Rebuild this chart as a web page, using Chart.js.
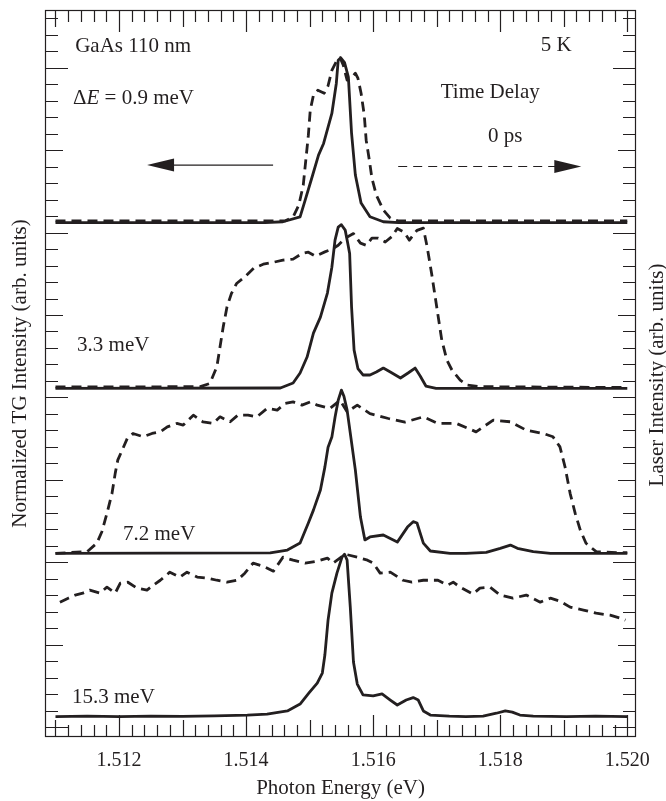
<!DOCTYPE html>
<html>
<head>
<meta charset="utf-8">
<script src="https://cdn.jsdelivr.net/npm/chart.js@4.4.1/dist/chart.umd.min.js"></script>
<style>
html,body{margin:0;padding:0;background:#fff;}
canvas{display:block;}
</style>
</head>
<body>
<canvas id="c" width="666" height="801"></canvas>
<script>
// ---------------- DATA (photon energy in eV, normalized intensity 0..1) ----------------
const PANEL_LABELS = ['0.9 meV', '3.3 meV', '7.2 meV', '15.3 meV'];
const PANEL_OFFSETS = [3.061, 2.055, 1.054, 0.0625];   // vertical stacking offsets (arb. units)
const X_TICK_LABELS = [1.512, 1.514, 1.516, 1.518, 1.520];

// Panel 1 : ΔE = 0.9 meV
const P1_TG_E = [1.511, 1.5143, 1.51458, 1.51485, 1.51493, 1.51504, 1.51514, 1.51522, 1.51535, 1.51542, 1.51545, 1.51549, 1.51555, 1.51561, 1.51566, 1.51572, 1.51581, 1.51595, 1.51616, 1.5164, 1.520];
const P1_TG_N = [0, 0, 0.005, 0.035, 0.136, 0.278, 0.409, 0.48, 0.662, 0.844, 0.985, 1.0, 0.97, 0.882, 0.542, 0.288, 0.118, 0.035, 0.005, 0, 0];
const P1_LASER_E = [1.511, 1.51461, 1.51474, 1.51483, 1.5149, 1.51494, 1.51498, 1.51501, 1.51506, 1.51513, 1.51523, 1.51529, 1.51535, 1.51543, 1.51548, 1.51553, 1.51559, 1.51565, 1.51572, 1.51576, 1.51581, 1.51586, 1.51589, 1.51594, 1.51598, 1.51605, 1.51616, 1.51627, 1.51639, 1.520];
const P1_LASER_N = [0.01, 0.01, 0.033, 0.106, 0.227, 0.379, 0.53, 0.682, 0.773, 0.803, 0.785, 0.83, 0.924, 0.985, 1.0, 0.955, 0.864, 0.876, 0.906, 0.876, 0.785, 0.652, 0.5, 0.379, 0.27, 0.167, 0.076, 0.027, 0.01, 0.01];

// Panel 2 : 3.3 meV
const P2_TG_E = [1.511, 1.51454, 1.51474, 1.51485, 1.51496, 1.51506, 1.51517, 1.51528, 1.51535, 1.5154, 1.51545, 1.5155, 1.51556, 1.5156, 1.51563, 1.51566, 1.5157, 1.51576, 1.51584, 1.51595, 1.51605, 1.51616, 1.51627, 1.51643, 1.51655, 1.51666, 1.51674, 1.51683, 1.51699, 1.520];
const P2_TG_N = [0, 0.002, 0.032, 0.093, 0.19, 0.335, 0.432, 0.578, 0.735, 0.899, 0.978, 0.993, 0.96, 0.88, 0.818, 0.495, 0.232, 0.12, 0.081, 0.081, 0.099, 0.123, 0.099, 0.063, 0.093, 0.123, 0.075, 0.014, 0, 0];
const P2_LASER_E = [1.511, 1.51328, 1.51343, 1.51354, 1.51359, 1.51364, 1.5137, 1.51377, 1.51385, 1.51398, 1.51412, 1.51427, 1.51443, 1.51458, 1.51474, 1.51488, 1.51498, 1.51509, 1.51524, 1.51535, 1.51545, 1.51556, 1.51569, 1.5158, 1.51589, 1.51598, 1.51608, 1.51619, 1.51629, 1.51638, 1.51649, 1.51657, 1.51669, 1.51679, 1.51685, 1.51692, 1.517, 1.51708, 1.51716, 1.51724, 1.51737, 1.51748, 1.51769, 1.520];
const P2_LASER_N = [0.008, 0.01, 0.03, 0.131, 0.252, 0.373, 0.495, 0.576, 0.636, 0.676, 0.729, 0.753, 0.765, 0.778, 0.784, 0.818, 0.826, 0.802, 0.828, 0.844, 0.868, 0.911, 0.939, 0.881, 0.868, 0.911, 0.911, 0.888, 0.919, 0.97, 0.947, 0.899, 0.959, 0.972, 0.858, 0.697, 0.495, 0.293, 0.172, 0.111, 0.05, 0.02, 0.01, 0.005];

// Panel 3 : 7.2 meV
const P3_TG_E = [1.511, 1.51438, 1.51465, 1.51485, 1.51498, 1.51506, 1.51517, 1.51524, 1.51529, 1.51535, 1.5154, 1.51545, 1.5155, 1.51554, 1.51559, 1.51564, 1.51572, 1.5158, 1.51587, 1.51595, 1.51616, 1.51638, 1.51654, 1.51663, 1.51669, 1.51679, 1.5169, 1.51721, 1.51746, 1.51778, 1.518, 1.51816, 1.51827, 1.51852, 1.51879, 1.520];
const P3_TG_N = [0, 0.002, 0.02, 0.062, 0.184, 0.262, 0.384, 0.523, 0.644, 0.705, 0.826, 0.929, 0.99, 0.953, 0.869, 0.729, 0.505, 0.22, 0.081, 0.099, 0.111, 0.068, 0.159, 0.192, 0.184, 0.062, 0.014, 0, 0, 0.006, 0.03, 0.05, 0.03, 0.01, 0, 0];
const P3_LASER_E = [1.511, 1.5115, 1.51165, 1.51173, 1.51181, 1.51189, 1.51194, 1.51198, 1.51205, 1.51213, 1.51222, 1.51238, 1.51252, 1.51265, 1.51276, 1.51291, 1.51301, 1.51317, 1.51332, 1.51348, 1.51359, 1.51375, 1.51387, 1.51403, 1.51417, 1.51433, 1.51449, 1.51461, 1.51474, 1.51488, 1.51501, 1.51512, 1.51532, 1.51548, 1.51559, 1.51575, 1.51595, 1.51624, 1.5165, 1.51679, 1.51702, 1.51731, 1.51762, 1.51789, 1.51816, 1.51841, 1.51868, 1.51883, 1.51894, 1.51902, 1.5191, 1.51918, 1.51926, 1.51935, 1.51951, 1.51983, 1.520];
const P3_LASER_N = [0, 0.01, 0.061, 0.131, 0.242, 0.364, 0.485, 0.565, 0.626, 0.697, 0.727, 0.707, 0.727, 0.737, 0.767, 0.788, 0.778, 0.838, 0.798, 0.788, 0.828, 0.798, 0.838, 0.838, 0.828, 0.879, 0.869, 0.909, 0.919, 0.899, 0.919, 0.899, 0.879, 0.929, 0.858, 0.899, 0.848, 0.818, 0.796, 0.828, 0.788, 0.788, 0.737, 0.808, 0.798, 0.747, 0.727, 0.707, 0.646, 0.525, 0.364, 0.242, 0.141, 0.061, 0.01, 0.004, 0.004];

// Panel 4 : 15.3 meV
const P4_TG_E = [1.511, 1.5115, 1.512, 1.5125, 1.513, 1.5135, 1.51402, 1.51433, 1.51465, 1.51485, 1.51499, 1.51512, 1.5152, 1.51524, 1.51529, 1.51535, 1.51543, 1.51551, 1.51555, 1.51559, 1.51564, 1.51569, 1.51575, 1.51584, 1.516, 1.51614, 1.51627, 1.51638, 1.51652, 1.51663, 1.51671, 1.51679, 1.5169, 1.5172, 1.51746, 1.51773, 1.51794, 1.51808, 1.51819, 1.51831, 1.51852, 1.5188, 1.51904, 1.5195, 1.520];
const P4_TG_N = [0, 0.003, 0.001, 0.004, 0.002, 0.005, 0.01, 0.016, 0.035, 0.077, 0.144, 0.204, 0.265, 0.374, 0.586, 0.75, 0.871, 0.968, 0.986, 0.95, 0.665, 0.332, 0.198, 0.132, 0.126, 0.138, 0.101, 0.071, 0.101, 0.116, 0.101, 0.035, 0.01, 0.003, 0, 0.004, 0.021, 0.035, 0.028, 0.01, 0.004, 0.002, 0, 0.003, 0.001];
const P4_LASER_E = [1.51107, 1.5112, 1.51131, 1.51143, 1.51154, 1.5117, 1.51181, 1.51194, 1.51202, 1.51214, 1.51228, 1.51244, 1.51254, 1.51265, 1.5128, 1.51296, 1.51307, 1.51323, 1.51339, 1.51354, 1.5137, 1.51386, 1.51398, 1.51411, 1.51427, 1.51443, 1.51458, 1.51474, 1.51493, 1.51512, 1.51528, 1.51537, 1.51556, 1.51575, 1.51591, 1.516, 1.51611, 1.51627, 1.51647, 1.51661, 1.51679, 1.51702, 1.51717, 1.51726, 1.51737, 1.51757, 1.51768, 1.51784, 1.518, 1.5182, 1.51841, 1.51863, 1.51879, 1.51894, 1.5191, 1.51931, 1.51951, 1.51973, 1.51989, 1.51997];
const P4_LASER_N = [0.695, 0.719, 0.738, 0.75, 0.768, 0.75, 0.786, 0.75, 0.81, 0.816, 0.78, 0.768, 0.798, 0.828, 0.877, 0.847, 0.877, 0.847, 0.841, 0.828, 0.816, 0.828, 0.871, 0.932, 0.913, 0.883, 0.968, 0.95, 0.932, 0.944, 0.962, 0.932, 0.986, 0.968, 0.95, 0.932, 0.871, 0.877, 0.828, 0.816, 0.828, 0.828, 0.798, 0.816, 0.786, 0.744, 0.78, 0.786, 0.738, 0.719, 0.738, 0.695, 0.719, 0.701, 0.665, 0.647, 0.628, 0.616, 0.598, 0.586];

// ---------------- BUILD ----------------
const INK = '#231f20';
const FONT = '"Liberation Serif", "Times New Roman", Times, serif';
Chart.defaults.font.family = FONT;
Chart.defaults.color = INK;

const SERIES = [
  [P1_TG_E, P1_TG_N, P1_LASER_E, P1_LASER_N],
  [P2_TG_E, P2_TG_N, P2_LASER_E, P2_LASER_N],
  [P3_TG_E, P3_TG_N, P3_LASER_E, P3_LASER_N],
  [P4_TG_E, P4_TG_N, P4_LASER_E, P4_LASER_N]
];
function pts(E, N, off) {
  const n = Math.min(E.length, N.length);
  const out = [];
  for (let i = 0; i < n; i++) out.push({x: E[i], y: N[i] + off});
  return out;
}
const datasets = [];
SERIES.forEach((s, i) => {
  datasets.push({label: 'Laser ' + PANEL_LABELS[i], data: pts(s[2], s[3], PANEL_OFFSETS[i]),
    borderColor: INK, borderWidth: 2.8, borderDash: [10, 6], pointRadius: 0, tension: 0,
    borderJoinStyle: 'round', fill: false, yAxisID: 'y'});
  datasets.push({label: 'TG ' + PANEL_LABELS[i], data: pts(s[0], s[1], PANEL_OFFSETS[i]),
    borderColor: INK, borderWidth: 2.8, pointRadius: 0, tension: 0,
    borderJoinStyle: 'round', fill: false, yAxisID: 'y'});
});

const X_MIN = 1.510835, X_MAX = 1.520137;
const Y_MIN = -0.0607, Y_MAX = 4.3508;

const RIGHT_TITLE = 'Laser Intensity (arb. units)';
const ANNOT = [
  {t: 'GaAs 110 nm', x: 1.51131, y: 4.132, a: 'left'},
  {t: '5 K', x: 1.518882, y: 4.138, a: 'center'},
  {t: 'Time Delay', x: 1.517843, y: 3.853, a: 'center'},
  {t: '0 ps', x: 1.518079, y: 3.583, a: 'center'},
  {t: '3.3 meV', x: 1.51134, y: 2.318, a: 'left'},
  {t: '7.2 meV', x: 1.512063, y: 1.171, a: 'left'},
  {t: '15.3 meV', x: 1.51126, y: 0.179, a: 'left'}
];
const DELTA_LABEL = {x: 1.511276, y: 3.814};
const ARROW_LEFT = {x1: 1.514425, x2: 1.512441, y: 3.41};
const ARROW_RIGHT = {x1: 1.516394, x2: 1.519276, y: 3.401};

const decor = {
  id: 'decor',
  afterDatasetsDraw(chart) {
    const {ctx, chartArea: a, scales} = chart;
    const x = scales.x, y = scales.y, y2 = scales.y2;
    ctx.save();
    // frame
    ctx.strokeStyle = INK;
    ctx.lineWidth = 1.2;
    ctx.strokeRect(a.left + 0.5, a.top + 0.5, a.right - a.left - 1, a.bottom - a.top - 1);
    // x ticks (top & bottom, inward)
    ctx.beginPath();
    for (let k = 0; k <= 45; k++) {
      const v = 1.511 + k * 0.0002;
      const px = Math.round(x.getPixelForValue(v)) + 0.5;
      const len = (k % 10 === 5) ? 22 : ((k % 5 === 0) ? 17 : 12);
      ctx.moveTo(px, a.bottom); ctx.lineTo(px, a.bottom - len);
      ctx.moveTo(px, a.top); ctx.lineTo(px, a.top + len);
    }
    // y ticks (left & right, inward)
    for (let k = 0; k <= 43; k++) {
      const py = Math.round(y.getPixelForValue(k * 0.1)) + 0.5;
      const len = (k % 10 === 0) ? 23 : ((k % 5 === 0) ? 18 : 13);
      ctx.moveTo(a.left, py); ctx.lineTo(a.left + len, py);
      ctx.moveTo(a.right, py); ctx.lineTo(a.right - len, py);
    }
    ctx.stroke();

    // text annotations
    ctx.fillStyle = INK;
    ctx.font = '21px ' + FONT;
    ctx.textBaseline = 'middle';
    ANNOT.forEach(o => {
      ctx.textAlign = o.a;
      ctx.fillText(o.t, x.getPixelForValue(o.x), y.getPixelForValue(o.y));
    });
    // ΔE = 0.9 meV with italic E
    ctx.textAlign = 'left';
    let dx = x.getPixelForValue(DELTA_LABEL.x);
    const dy = y.getPixelForValue(DELTA_LABEL.y);
    ctx.font = '21px ' + FONT;
    ctx.fillText('\u0394', dx, dy); dx += ctx.measureText('\u0394').width;
    ctx.font = 'italic 21px ' + FONT;
    ctx.fillText('E', dx, dy); dx += ctx.measureText('E').width;
    ctx.font = '21px ' + FONT;
    ctx.fillText(' = 0.9 meV', dx, dy);

    // right axis title, reading bottom-to-top
    ctx.save();
    ctx.translate(y2.right - 9, (a.top + a.bottom) / 2 + 1.5);
    ctx.rotate(-Math.PI / 2);
    ctx.textAlign = 'center';
    ctx.textBaseline = 'middle';
    ctx.font = '21px ' + FONT;
    ctx.fillText(RIGHT_TITLE, 0, 0);
    ctx.restore();

    // arrows
    function head(tipX, tipY, dir) {
      ctx.beginPath();
      ctx.moveTo(tipX, tipY);
      ctx.lineTo(tipX - dir * 27, tipY - 6.5);
      ctx.lineTo(tipX - dir * 27, tipY + 6.5);
      ctx.closePath();
      ctx.fill();
    }
    ctx.lineWidth = 1.2;
    // solid arrow pointing left
    let ax1 = x.getPixelForValue(ARROW_LEFT.x1), ax2 = x.getPixelForValue(ARROW_LEFT.x2), ay = y.getPixelForValue(ARROW_LEFT.y);
    ctx.beginPath(); ctx.moveTo(ax1, ay); ctx.lineTo(ax2 + 20, ay); ctx.stroke();
    head(ax2, ay, -1);
    // dashed arrow pointing right
    ax1 = x.getPixelForValue(ARROW_RIGHT.x1); ax2 = x.getPixelForValue(ARROW_RIGHT.x2); ay = y.getPixelForValue(ARROW_RIGHT.y);
    ctx.setLineDash([9, 6]);
    ctx.beginPath(); ctx.moveTo(ax1, ay); ctx.lineTo(ax2 - 24, ay); ctx.stroke();
    ctx.setLineDash([]);
    head(ax2, ay, 1);
    ctx.restore();
  }
};

new Chart(document.getElementById('c'), {
  type: 'line',
  data: {datasets},
  options: {
    responsive: false,
    animation: false,
    devicePixelRatio: 1,
    layout: {padding: {top: 10, left: 0, right: 0, bottom: 0}},
    plugins: {legend: {display: false}, tooltip: {enabled: false}},
    scales: {
      x: {
        type: 'linear', position: 'bottom', min: X_MIN, max: X_MAX,
        grid: {display: false, drawTicks: false}, border: {display: false},
        afterBuildTicks: s => { s.ticks = X_TICK_LABELS.map(v => ({value: v})); },
        afterFit: s => { s.height = 64; },
        ticks: {font: {size: 20}, color: INK, padding: 12, maxRotation: 0, autoSkip: false,
                callback: v => Number(v).toFixed(3)},
        title: {display: true, text: 'Photon Energy (eV)', font: {size: 21}, color: INK,
                padding: {top: 0, bottom: 0.4}}
      },
      y: {
        type: 'linear', position: 'left', min: Y_MIN, max: Y_MAX,
        grid: {display: false, drawTicks: false}, border: {display: false},
        ticks: {display: false},
        afterFit: s => { s.width = 45; },
        title: {display: true, text: 'Normalized TG Intensity (arb. units)', font: {size: 21}, color: INK,
                padding: {top: 7.4, bottom: 0}}
      },
      y2: {
        type: 'linear', position: 'right', min: Y_MIN, max: Y_MAX,
        grid: {display: false, drawTicks: false}, border: {display: false},
        ticks: {display: false},
        afterFit: s => { s.width = 30; },
        title: {display: false}
      }
    }
  },
  plugins: [decor]
});
</script>
</body>
</html>
